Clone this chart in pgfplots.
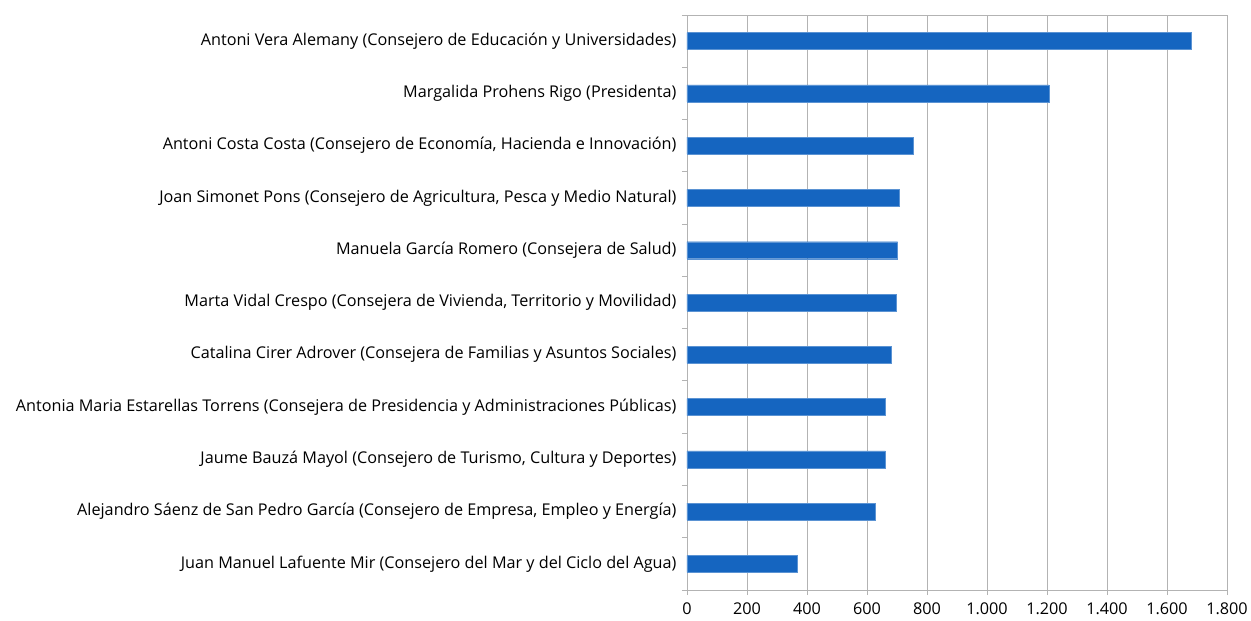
\documentclass[border=0pt]{standalone}
\usepackage{pgfplots}
\pgfplotsset{compat=1.18}
\usepackage{fontspec}
\setmainfont{Open Sans}
\definecolor{barblue}{RGB}{21,101,192}
\definecolor{gridgray}{RGB}{179,179,179}
\begin{document}
\begin{tikzpicture}
\useasboundingbox (-687pt,-31pt) rectangle (564pt,590pt);
\begin{axis}[
  at={(0pt,0pt)}, anchor=south west,
  scale only axis,
  width=540pt, height=575pt,
  xbar, bar width=17pt,
  xmin=0, xmax=1800,
  ymin=-0.5, ymax=10.5,
  y dir=reverse,
  xtick={0,200,...,1800},
  ytick={0,...,10},
  minor ytick={-0.5,0.5,...,10.5},
  ytick pos=left, xtick pos=bottom,
  yticklabels={
    Antoni Vera Alemany (Consejero de Educación y Universidades),
    Margalida Prohens Rigo (Presidenta),
    {Antoni Costa Costa (Consejero de Economía, Hacienda e Innovación)},
    {Joan Simonet Pons (Consejero de Agricultura, Pesca y Medio Natural)},
    Manuela García Romero (Consejera de Salud),
    {Marta Vidal Crespo (Consejera de Vivienda, Territorio y Movilidad)},
    Catalina Cirer Adrover (Consejera de Familias y Asuntos Sociales),
    Antonia Maria Estarellas Torrens (Consejera de Presidencia y Administraciones Públicas),
    {Jaume Bauzá Mayol (Consejero de Turismo, Cultura y Deportes)},
    {Alejandro Sáenz de San Pedro García (Consejero de Empresa, Empleo y Energía)},
    Juan Manuel Lafuente Mir (Consejero del Mar y del Ciclo del Agua)},
  major y tick style={draw=none},
  minor tick length=5pt,
  minor y tick style={gridgray, line width=0.9pt},
  tick align=outside,
  major x tick style={gridgray, line width=0.9pt},
  major tick length=5pt,
  xmajorgrids,
  major x grid style={gridgray, line width=0.9pt},
  axis line style={gridgray, line width=0.9pt},
  tick label style={font=\fontsize{16.2}{18}\selectfont, text=black},
  /pgf/number format/1000 sep={.},
  /pgf/number format/assume math mode=true,
  yticklabel style={xshift=-2pt},
  xticklabel style={yshift=-4pt},
]
\addplot[fill=barblue, draw=barblue!70!white, line width=0.4pt] coordinates {
  (1681,0) (1206,1) (755,2) (708,3) (702,4) (698,5) (681,6) (661,7) (661,8) (628,9) (368,10)
};
\end{axis}
\end{tikzpicture}
\end{document}
